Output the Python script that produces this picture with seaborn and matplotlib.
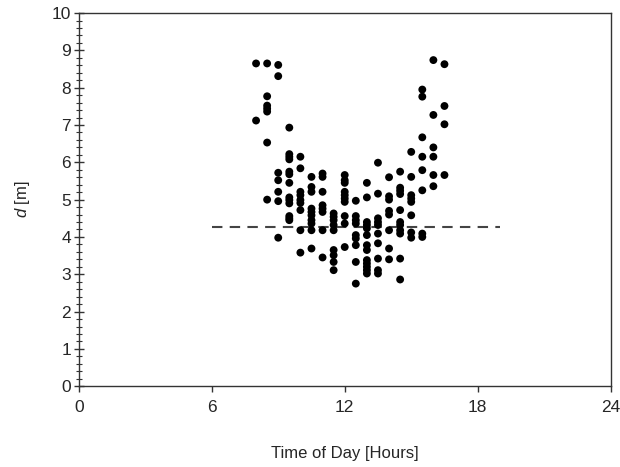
import numpy as np
import pandas as pd
import seaborn as sns
import matplotlib
matplotlib.use("Agg")
import matplotlib.pyplot as plt
from matplotlib.ticker import MultipleLocator

# half-hour bins (time of day) and the d readings in each bin
hours = [8.0, 8.5, 9.0, 9.5, 10.0, 10.5, 11.0, 11.5, 12.0,
         12.5, 13.0, 13.5, 14.0, 14.5, 15.0, 15.5, 16.0, 16.5]

d_0800 = [8.65, 7.12]
d_0830 = [8.65, 7.77, 7.52, 7.44, 7.36, 6.53, 5.00]
d_0900 = [8.61, 8.31, 5.72, 5.52, 5.21, 4.96, 3.98]
d_0930 = [6.93, 6.22, 6.15, 6.08, 5.75, 5.68, 5.45, 5.06, 4.99, 4.90, 4.56, 4.50, 4.45]
d_1000 = [6.15, 5.84, 5.21, 5.12, 4.99, 4.91, 4.72, 4.18, 3.58]
d_1030 = [5.61, 5.34, 5.21, 4.76, 4.67, 4.58, 4.45, 4.36, 4.18, 3.69]
d_1100 = [5.70, 5.61, 5.21, 4.85, 4.76, 4.67, 4.18, 3.45]
d_1130 = [4.63, 4.54, 4.45, 4.32, 4.18, 3.65, 3.51, 3.33, 3.11]
d_1200 = [5.66, 5.52, 5.45, 5.21, 5.12, 5.03, 4.94, 4.56, 4.36, 3.73]
d_1230 = [4.97, 4.56, 4.45, 4.36, 4.05, 3.96, 3.78, 3.33, 2.75]
d_1300 = [5.45, 5.06, 4.40, 4.32, 4.23, 4.05, 3.78, 3.65, 3.38, 3.29, 3.20, 3.11, 3.02]
d_1330 = [5.99, 5.16, 4.50, 4.40, 4.32, 4.09, 3.83, 3.42, 3.11, 3.02]
d_1400 = [5.60, 5.09, 5.00, 4.70, 4.60, 4.18, 3.69, 3.40]
d_1430 = [5.75, 5.32, 5.24, 5.15, 4.72, 4.40, 4.32, 4.18, 4.09, 3.42, 2.86]
d_1500 = [6.28, 5.61, 5.12, 5.03, 4.94, 4.58, 4.12, 3.98]
d_1530 = [7.95, 7.76, 6.67, 6.15, 5.79, 5.25, 4.09, 4.00]
d_1600 = [8.74, 7.27, 6.40, 6.15, 5.66, 5.36]
d_1630 = [8.63, 7.51, 7.02, 5.66]

# dashed reference level
mean_d = 4.27
mean_span = [6, 19]

d_bins = [d_0800, d_0830, d_0900, d_0930, d_1000, d_1030, d_1100, d_1130, d_1200,
          d_1230, d_1300, d_1330, d_1400, d_1430, d_1500, d_1530, d_1600, d_1630]

rows = []
for h, ds in zip(hours, d_bins):
    for d in ds:
        rows.append((h, d))
df = pd.DataFrame(rows, columns=["hour", "d"])

sns.set_style("ticks")
plt.rcParams["font.family"] = ["Liberation Sans", "DejaVu Sans"]
plt.rcParams["mathtext.fontset"] = "custom"
plt.rcParams["mathtext.it"] = "Liberation Sans:italic"
plt.rcParams["mathtext.rm"] = "Liberation Sans"

fig = plt.figure(figsize=(6.2, 4.67), dpi=100)
ax = fig.add_axes([0.127, 0.173, 0.858, 0.799])

sns.scatterplot(data=df, x="hour", y="d", color="black", s=32,
                edgecolor="none", ax=ax, zorder=3)
ax.hlines(mean_d, mean_span[0], mean_span[1], colors="#444444",
          linestyles=(0, (5, 3.5)), linewidth=1.5, zorder=2)

ax.set_xlim(0, 24)
ax.set_ylim(0, 10)
ax.set_xticks([0, 6, 12, 18, 24])
ax.yaxis.set_major_locator(MultipleLocator(1))
ax.yaxis.set_minor_locator(MultipleLocator(0.2))

for s in ax.spines.values():
    s.set_color("#333333")
    s.set_linewidth(1.0)

ax.tick_params(axis="y", which="major", direction="inout", length=7, width=1,
               color="#333333", labelsize=12.5, pad=2)
ax.tick_params(axis="y", which="minor", direction="inout", length=5, width=0.8,
               color="#333333")
ax.tick_params(axis="x", which="major", direction="out", length=4, width=1,
               color="#333333", labelsize=12.5, pad=6)

ax.set_xlabel("Time of Day [Hours]", fontsize=12, labelpad=22)
ax.set_ylabel("$d$ [m]", fontsize=12, labelpad=14)

fig.savefig("out.png", dpi=100)
